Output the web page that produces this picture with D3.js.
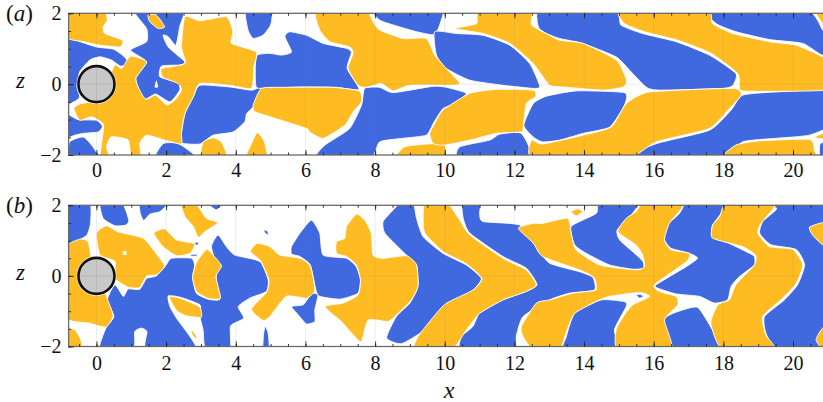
<!DOCTYPE html>
<html><head><meta charset="utf-8">
<script src="https://cdn.jsdelivr.net/npm/d3@7"></script>
<style>html,body{margin:0;padding:0;background:#fff}svg{display:block}</style>
</head><body><svg id="c" width="823" height="402"></svg>
<script>
const majorX=[0,2,4,6,8,10,12,14,16,18,20];
const minorX=d3.range(-0.5,21,0.5);
const majorZ=[-2,0,2];
const minorZ=d3.range(-2,2.01,0.5);
const bodyCentre=[0,0], bodyRadius=0.5;
const panelNames=["(a)","(b)"];

const blueA=[
[[-.86,1.26],[-.48,1.20],[0,1.05],[.48,.99],[.78,.79],[.94,.58],[.69,.51],[.43,.68],[.10,.77],[-.19,.68],[-.48,.35],[-.56,-.08],[-.48,-.36],[-.65,-.50],[-.91,-.50]],
[[-.91,-.83],[-.53,-1.0],[0,-1.02],[.17,-1.19],[.05,-1.35],[-.38,-1.39],[-.62,-1.44],[-.91,-1.51]],
[[-.77,-1.63],[-.38,-1.49],[-.10,-1.77],[.05,-2.10],[-.77,-2.10]],
[[1.10,2.09],[2.47,2.09],[2.39,1.62],[2.28,1.10],[2.06,1.34],[1.91,1.38],[2.06,1.05],[2.54,.63],[2.39,.54],[1.87,.51],[1.82,.21],[2.34,.04],[2.39,-.17],[2.11,-.50],[1.70,-.28],[1.39,-.43],[1.22,-.15],[1.13,.19],[1.44,.63],[.98,.96],[1.44,1.20],[1.44,1.57]],
[[1.70,-2.10],[1.91,-1.68],[2.30,-1.66],[2.58,-1.82],[2.87,-2.10]],
[[4.29,2.09],[5.02,2.09],[5.0,1.67],[4.78,1.38],[4.50,1.29],[4.35,1.53]],
[[2.97,-.03],[3.83,-.08],[4.45,-.17],[4.74,-.09],[4.50,-.64],[4.31,-.83],[4.26,-1.06],[3.92,-1.35],[3.35,-1.44],[2.97,-1.69],[2.44,-1.66],[2.44,-1.35],[2.54,-.83],[2.78,-.36]],
[[4.56,.44],[4.61,.82],[4.98,.87],[5.31,.82],[5.60,.91],[5.41,1.34],[5.55,1.48],[6.03,1.38],[6.51,1.15],[7.18,1.01],[7.32,.89],[7.20,.44],[7.54,-.15],[6.89,-.09],[5.93,-.08],[4.98,-.11],[4.59,-.09]],
[[7.99,2.09],[9.86,2.09],[9.90,1.81],[9.71,1.40],[9.19,1.48],[8.52,1.67],[8.13,1.81]],
[[7.70,-.12],[8.13,-.09],[8.52,-.24],[9.67,-.06],[10.05,-.09],[10.62,-.26],[10.29,-.55],[9.95,-.69],[9.67,-1.11],[9.47,-1.44],[8.80,-1.53],[8.13,-1.63],[7.85,-2.10],[6.32,-2.10],[6.56,-1.72],[7.27,-1.25],[7.61,-.59]],
[[10.43,-2.10],[10.43,-1.77],[11.29,-1.58],[11.58,-1.41],[12.20,-1.39],[12.44,-2.10]],
[[9.71,1.48],[10.33,1.43],[11.10,1.38],[11.87,1.10],[12.44,.58],[12.73,-.06],[12.54,-.12],[11.67,-.03],[10.72,.11],[10.05,.44],[9.76,.82]],
[[12.54,-.55],[12.92,-.34],[13.78,-.19],[15.16,-.24],[15.16,-.59],[14.74,-1.21],[13.97,-1.39],[13.30,-1.58],[12.81,-1.63],[12.54,-1.49],[12.27,-1.16]],
[[12.78,2.09],[14.87,2.09],[15.06,1.67],[15.68,1.43],[16.64,1.20],[17.60,.82],[18.36,.30],[18.27,-.03],[17.98,-.12],[16.16,-.17],[15.78,-.08],[15.30,.40],[14.92,.77],[13.96,1.15],[13.29,1.29],[12.92,1.43],[12.71,1.57],[12.65,1.81]],
[[17.60,2.09],[20.37,2.09],[20.85,1.53],[21.15,1.15],[20.85,.82],[20.28,1.15],[19.32,1.26],[18.36,1.48],[17.79,1.71]],
[[18.55,-.31],[19.51,-.22],[21.15,-.19],[21.15,-1.11],[20.47,-1.44],[19.51,-1.53],[18.55,-1.63],[17.98,-2.10],[15.25,-2.10],[16.07,-1.68],[17.60,-1.30],[18.22,-.73]],
[[20.78,-2.10],[20.78,-1.68],[21.15,-1.63],[21.15,-2.10]]
];
const orangeA=[
[[-.86,2.09],[.19,2.09],[.31,1.81],[.19,1.62],[.24,1.43],[.75,1.24],[.67,1.05],[.10,1.10],[-.38,1.20],[-.86,1.32]],
[[.53,.54],[.72,.44],[.98,.79],[1.44,.63],[1.13,.16],[1.24,-.17],[1.42,-.43],[1.70,-.31],[2.01,-.59],[2.25,-.45],[2.44,-.17],[2.34,.02],[1.91,.19],[1.87,.44],[2.54,.58],[2.44,1.05],[2.54,1.90],[2.97,1.79],[3.73,1.90],[3.92,1.48],[3.88,1.15],[4.59,.91],[4.52,.49],[4.45,-.12],[3.83,-.03],[2.97,.02],[2.78,-.36],[2.54,-.83],[2.44,-1.39],[2.44,-1.69],[1.96,-1.58],[1.44,-1.44],[1.24,-1.68],[1.29,-2.10],[1.00,-2.10],[.91,-1.58],[.43,-1.49],[.29,-1.77],[.38,-2.10],[.10,-2.10],[.19,-1.35],[.19,-1.11],[-.14,-.92],[-.48,-1.02],[-.65,-.69],[-.48,-.56],[0,-.45],[.29,.02]],
[[1.48,1.95],[1.72,1.95],[1.96,1.62],[1.77,1.57],[1.53,1.76]],
[[3.01,-2.10],[3.06,-1.64],[3.35,-1.51],[3.59,-1.64],[3.75,-2.10]],
[[4.29,-2.10],[4.45,-1.68],[4.61,-1.37],[4.80,-1.58],[4.90,-2.10]],
[[4.74,-.12],[5.45,-.09],[6.75,-.09],[7.54,-.19],[7.61,-.50],[7.37,-.78],[7.13,-1.16],[6.51,-1.53],[6.12,-1.35],[6.03,-1.25],[4.98,-.92],[4.55,-.78],[4.50,-.59]],
[[6.32,2.09],[7.70,2.09],[7.94,1.76],[8.13,1.53],[8.80,1.29],[9.47,1.29],[9.71,.82],[10.05,.44],[10.43,.02],[10.14,-.03],[9.00,-.03],[8.52,-.19],[8.18,.02],[7.75,-.09],[7.51,-.03],[7.22,.44],[7.37,.87],[7.27,1.05],[6.70,1.20],[6.41,1.53]],
[[8.61,-2.10],[8.85,-1.77],[9.47,-1.69],[9.98,-1.69],[9.98,-2.10]],
[[9.57,-1.39],[9.76,-1.02],[9.95,-.73],[10.72,-.26],[11.48,-.15],[12.54,-.17],[12.60,-.36],[12.34,-.55],[12.25,-1.25],[12.20,-1.35],[11.48,-1.39],[10.72,-1.58],[10.0,-1.72],[9.67,-1.68]],
[[10.29,1.57],[10.91,1.71],[11.0,2.09],[12.44,2.09],[12.49,1.67],[13.01,1.38],[13.30,1.24],[13.97,1.15],[14.93,.68],[15.22,.11],[15.12,-.08],[14.55,-.17],[13.40,-.08],[13.01,-.03],[12.54,.58],[11.87,1.15],[11.10,1.43]],
[[12.49,-1.58],[12.81,-1.69],[13.97,-1.44],[14.78,-1.21],[15.21,-.55],[15.88,-.22],[18.27,-.12],[18.51,-.31],[18.17,-.69],[17.60,-1.25],[16.07,-1.63],[15.21,-2.10],[12.54,-2.10]],
[[15.06,2.09],[17.50,2.09],[17.69,1.71],[18.27,1.43],[19.32,1.20],[20.09,1.10],[20.85,.77],[21.15,.49],[21.15,-.15],[18.65,-.20],[18.46,-.09],[18.41,.30],[17.65,.87],[16.69,1.24],[15.73,1.48],[15.16,1.71]],
[[20.61,2.09],[21.15,2.09],[21.15,1.34]],
[[18.03,-2.10],[18.36,-1.72],[19.03,-1.60],[20.47,-1.56],[20.61,-1.86],[20.55,-2.10]],
[[20.62,-1.51],[20.85,-1.39],[21.15,-1.35],[21.15,-1.56]]
];
const holesA=[[[1.72,.11],[1.77,-.08],[1.67,-.09]]];

const blueB=[
[[-.86,2.09],[-.19,2.09],[-.17,1.49],[-.27,1.16],[-.48,1.02],[-.65,.81],[-.91,.78]],
[[.11,2.09],[.72,2.09],[.93,1.58],[.84,1.44],[.53,1.42],[.19,1.63]],
[[1.26,2.09],[2.06,2.09],[1.82,1.82],[1.53,1.75],[1.36,1.57],[1.26,1.77]],
[[3.16,2.09],[3.66,2.09],[3.44,1.87]],
[[2.83,.95],[2.92,.95],[2.92,.88],[2.83,.88]],
[[2.72,.61],[2.88,.61],[2.88,.56],[2.72,.56]],
[[.10,-2.09],[.27,-1.48],[.50,-1.15],[.31,-.68],[.53,-.25],[.77,-.58],[.91,-.37],[1.24,-.38],[1.44,-.07],[1.72,0],[1.98,.28],[2.15,.50],[2.73,.50],[2.82,.28],[2.76,-.04],[2.87,-.49],[3.21,-.66],[3.54,-.66],[3.44,-.11],[3.44,.31],[3.30,.83],[3.49,1.16],[3.73,.83],[3.97,.59],[4.69,.41],[4.93,-.11],[4.88,-.44],[4.40,-.63],[4.07,-.87],[4.23,-1.20],[3.85,-1.42],[3.83,-2.09],[3.14,-2.09],[3.06,-1.53],[2.97,-1.15],[2.97,-.82],[2.39,-.60],[2.06,-.57],[2.11,-.87],[2.30,-1.20],[2.87,-2.09],[1.44,-2.09],[1.45,-1.58],[1.29,-1.48],[1.10,-1.58],[1.05,-2.09]],
[[4.78,-2.09],[4.80,-1.62],[4.85,-1.43],[4.93,-1.62],[4.96,-2.09]],
[[4.80,1.30],[4.90,1.28],[4.95,1.17],[4.85,1.20]],
[[5.60,.83],[5.84,1.21],[6.17,1.58],[6.41,1.21],[6.51,.59],[7.18,.50],[7.46,.26],[7.58,-.11],[7.51,-.49],[6.99,-.66],[6.41,-.58],[6.30,-.40],[6.14,.31],[5.84,.55],[5.60,.62]],
[[6.08,-.63],[6.17,-.49],[6.36,-.54],[6.27,-.96],[6.27,-1.29],[6.03,-1.36],[5.79,-1.10],[5.60,-.87],[5.93,-.82]],
[[8.76,2.09],[9.09,2.09],[9.19,1.63],[9.38,1.11],[9.95,.64],[10.62,.31],[11.05,-.07],[10.81,-.40],[9.95,-1.01],[9.43,-1.53],[8.76,-1.92],[8.33,-1.76],[8.61,-1.15],[9.0,-.77],[9.23,-.30],[9.19,.31],[8.90,.59],[8.28,1.21],[8.23,1.54],[8.52,1.87]],
[[10.51,2.09],[11.02,2.09],[11.0,1.77],[11.10,1.54],[12.15,1.44],[12.63,.83],[13.01,.36],[13.87,.12],[14.25,-.04],[14.30,-.40],[13.58,-.49],[13.01,-.68],[12.25,-1.15],[12.06,-1.67],[11.96,-2.09],[10.48,-2.09],[10.48,-1.72],[10.81,-1.43],[11.0,-1.06],[11.67,-.68],[12.34,-.44],[12.65,-.25],[12.34,.22],[11.67,.55],[10.72,1.21],[10.53,1.63]],
[[13.63,1.40],[14.35,1.77],[14.44,2.09],[15.55,2.09],[15.36,1.73],[14.95,1.30],[15.02,1.02],[15.45,.64],[15.69,.41],[15.71,.22],[15.40,.19],[14.73,.31],[14.06,.64],[13.73,.88]],
[[13.44,-2.09],[13.49,-1.72],[13.73,-1.06],[14.49,-.68],[15.16,-.73],[15.21,-.87],[14.87,-1.53],[14.97,-2.09]],
[[15.50,-.55],[15.60,-.52],[15.70,-.58],[15.60,-.63]],
[[16.98,2.09],[18.12,2.09],[17.69,1.44],[17.69,1.11],[18.17,.92],[18.75,.64],[18.89,.55],[18.89,.31],[18.46,-.02],[18.22,-.30],[18.12,-.68],[17.74,-.77],[17.31,-.58],[16.64,-.51],[16.12,-.35],[16.07,-.25],[16.93,.26],[17.26,.50],[17.02,.64],[16.50,.78],[16.31,1.02],[16.35,1.40],[16.74,1.77]],
[[16.31,-1.20],[16.69,-1.01],[17.26,-.89],[17.69,-1.53],[18.08,-2.09],[16.50,-2.09],[16.31,-1.62]],
[[19.62,2.09],[21.15,2.09],[21.15,-2.09],[19.57,-2.09],[19.22,-1.62],[19.18,-1.15],[19.75,-.68],[20.13,-.25],[20.33,.31],[20.09,.75],[19.37,.88],[19.04,1.21],[19.13,1.54],[19.51,1.87]]
];
const orangeB=[
[[-.91,.74],[-.48,1.04],[-.24,.97],[-.14,.50],[.10,.08],[.29,-.58],[.48,-1.13],[.27,-1.45],[-.19,-1.34],[-.91,-1.15]],
[[-.91,-1.48],[-.62,-1.53],[-.45,-1.81],[-.43,-2.09],[-.91,-2.09]],
[[2.42,2.09],[2.82,2.09],[3.16,1.63],[3.49,1.51],[3.11,1.25],[2.92,1.09],[2.78,1.40],[2.54,1.68]],
[[0,1.21],[.29,1.42],[.62,1.25],[1.34,1.07],[1.67,.69],[1.96,.28],[1.72,.03],[1.44,0],[1.24,-.33],[.91,-.32],[.53,-.07],[.53,.41],[.10,.59]],
[[1.65,1.21],[1.96,1.33],[2.30,1.02],[2.82,.91],[2.68,.64],[2.30,.57],[1.91,.83]],
[[2.09,-.60],[2.39,-.63],[2.95,-.87],[3.01,-1.17],[2.58,-1.13],[2.30,-.98]],
[[2.76,-1.55],[2.89,-1.74],[2.82,-1.76],[2.73,-1.62]],
[[2.87,.38],[3.16,.75],[3.35,.59],[3.59,.28],[3.43,-.02],[3.56,-.63],[3.21,-.64],[2.87,-.44],[2.76,-.04]],
[[4.42,.69],[4.61,.92],[4.98,.83],[5.26,.59],[5.84,.50],[6.14,.28],[6.27,-.40],[6.03,-.63],[5.45,-.58],[4.98,-1.15],[4.78,-1.26],[4.45,-.94],[4.88,-.47],[4.95,-.11],[4.71,.43]],
[[7.18,1.40],[7.46,1.75],[7.70,1.58],[7.89,1.21],[7.94,.59],[8.23,.50],[8.90,.57],[9.19,.31],[9.23,-.30],[9.04,-.68],[8.66,-1.06],[8.37,-1.29],[7.80,-1.25],[7.61,-1.86],[7.42,-1.72],[7.03,-1.29],[6.56,-.87],[7.08,-.77],[7.51,-.54],[7.58,-.11],[7.46,.31],[7.18,.55],[6.89,.64],[6.89,.97],[7.13,1.07]],
[[9.43,2.09],[10.05,2.09],[10.43,1.58],[10.72,1.16],[11.67,.50],[12.34,.17],[12.63,-.25],[12.34,-.44],[11.67,-.68],[11.0,-1.06],[10.62,-1.53],[10.19,-2.09],[9.14,-2.09],[9.23,-1.72],[9.76,-1.06],[10.05,-.77],[10.81,-.40],[11.07,-.07],[10.62,.34],[9.95,.69],[9.43,1.21],[9.38,1.58]],
[[12.11,1.35],[12.54,1.49],[12.81,1.49],[13.53,1.63],[13.63,1.21],[13.77,.74],[14.44,.31],[15.49,.17],[15.73,.26],[15.68,.59],[15.49,.88],[14.97,1.25],[15.21,1.63],[15.49,1.82],[15.74,2.09],[16.89,2.09],[16.45,1.49],[16.31,1.02],[16.50,.74],[17.02,.64],[16.94,.41],[16.02,-.25],[16.16,-.44],[16.64,-.58],[16.69,-.82],[16.31,-1.25],[16.50,-2.09],[14.98,-2.09],[14.92,-1.53],[15.16,-1.10],[15.40,-.82],[15.89,-.58],[15.59,-.47],[14.73,-.58],[14.44,-.68],[13.73,-1.06],[13.48,-1.62],[13.29,-2.09],[12.54,-2.09],[12.25,-1.72],[12.20,-1.43],[12.63,-.77],[13.01,-.68],[13.67,-.49],[14.33,-.40],[14.28,-.04],[13.87,.17],[12.81,.55],[12.54,.93]],
[[13.63,1.82],[13.82,1.90],[13.96,1.82],[13.77,1.70]],
[[18.12,2.09],[19.51,2.09],[19.08,1.49],[18.99,1.21],[19.32,.83],[19.99,.75],[20.28,.31],[20.09,-.21],[19.70,-.63],[19.13,-1.15],[19.22,-1.67],[19.46,-2.09],[17.98,-2.09],[17.64,-1.34],[17.84,-.82],[18.17,-.68],[18.36,-.25],[18.89,.31],[18.92,.59],[18.55,.83],[17.69,1.07],[17.69,1.44],[17.89,1.68]],
[[20.47,1.38],[20.85,1.51],[21.15,1.49],[21.15,.83],[20.85,.88],[20.56,1.16]],
[[20.66,-1.81],[20.85,-1.48],[21.15,-1.48],[21.15,-2.09],[20.86,-2.09]]
];
const holesB=[[[.76,.70],[.86,.70],[.86,.60],[.76,.60]]];

const BLUE="#4069E0", ORANGE="#FFBC20", SERIF="'Liberation Serif',serif";
const svg=d3.select("#c");
const defs=svg.append("defs");
defs.append("filter").attr("id","soft").attr("x","-2%").attr("y","-5%").attr("width","104%").attr("height","110%")
  .append("feGaussianBlur").attr("stdDeviation",0.45);
const x=d3.scaleLinear().domain([-0.8,20.86]).range([68.6,823]);

function panel(i,blue,orange,holes,top,bottom,pad){
  const z=d3.scaleLinear().domain([-2,2]).range([bottom,top]);
  const id="clip"+i;
  defs.append("clipPath").attr("id",id).append("rect")
    .attr("x",x(-0.8)).attr("y",top).attr("width",823-x(-0.8)).attr("height",bottom-top);
  const g=svg.append("g");
  const clipG=g.append("g").attr("clip-path",`url(#${id})`);
  const body=clipG.append("g").attr("filter","url(#soft)");
  const line=d3.line().x(d=>x(d[0])).y(d=>z(d[1])).curve(d3.curveCardinalClosed.tension(0.45));
  const draw=(data,fill,sw)=>body.append("g").selectAll("path").data(data).join("path")
    .attr("d",line).attr("fill",fill).attr("stroke","#fff").attr("stroke-width",sw).attr("stroke-linejoin","round");
  draw(blue,BLUE,0.9);
  draw(orange,ORANGE,0.9);
  draw(holes,"#fff",0);
  clipG.append("g").selectAll("line").data(majorX).join("line")
    .attr("x1",d=>x(d)).attr("x2",d=>x(d)).attr("y1",top).attr("y2",bottom)
    .attr("stroke","#777").attr("stroke-opacity",.14).attr("stroke-width",1);
  clipG.append("line").attr("x1",x(-0.8)).attr("x2",823).attr("y1",z(0)).attr("y2",z(0))
    .attr("stroke","#777").attr("stroke-opacity",.14).attr("stroke-width",1);
  const rx=x(bodyCentre[0]), rz=z(bodyCentre[1]), r=x(bodyRadius)-x(0);
  g.append("circle").attr("cx",rx).attr("cy",rz).attr("r",r+2.4).attr("fill","#fff");
  g.append("circle").attr("cx",rx).attr("cy",rz).attr("r",r+0.6).attr("fill","#c8c8c8").attr("stroke","#111").attr("stroke-width",2.6);
  g.append("line").attr("x1",rx-r).attr("x2",rx+r).attr("y1",rz).attr("y2",rz).attr("stroke","#777").attr("stroke-opacity",.2);
  g.append("line").attr("x1",rx).attr("x2",rx).attr("y1",rz-r).attr("y2",rz+r).attr("stroke","#777").attr("stroke-opacity",.2);
  g.append("rect").attr("x",x(-0.8)).attr("y",top).attr("width",823-x(-0.8)+3).attr("height",bottom-top)
    .attr("fill","none").attr("stroke","#6a6a6a").attr("stroke-width",1.3);
  const styleAxis=a=>{a.select(".domain").remove();a.selectAll("line").attr("stroke","#222").attr("stroke-width",.9);
    a.selectAll("text").attr("font-family",SERIF).attr("font-size",20).attr("fill","#111");};
  const inRange=minorX.filter(v=>x(v)<=823);
  svg.append("g").attr("transform",`translate(0,${bottom})`).call(d3.axisBottom(x).tickValues(inRange).tickSize(-2.5).tickFormat("")).call(styleAxis);
  svg.append("g").attr("transform",`translate(0,${top})`).call(d3.axisTop(x).tickValues(inRange).tickSize(-2.5).tickFormat("")).call(styleAxis);
  svg.append("g").attr("transform",`translate(0,${top})`).call(d3.axisTop(x).tickValues(majorX).tickSize(-5).tickFormat("")).call(styleAxis);
  svg.append("g").attr("transform",`translate(0,${bottom})`).call(d3.axisBottom(x).tickValues(majorX).tickSize(-5).tickPadding(pad).tickFormat(d3.format("d"))).call(styleAxis);
  svg.append("g").attr("transform",`translate(${x(-0.8)},0)`).call(d3.axisLeft(z).tickValues(minorZ).tickSize(-2.5).tickFormat("")).call(styleAxis);
  svg.append("g").attr("transform",`translate(${x(-0.8)},0)`).call(d3.axisLeft(z).tickValues(majorZ).tickSize(-5).tickPadding(7).tickFormat(d3.format("d"))).call(styleAxis);
  const t=svg.append("text").attr("x",6).attr("y",top+7.5).attr("font-family",SERIF).attr("font-size",23).attr("fill","#111");
  const nm=panelNames[i];
  t.append("tspan").text("(");
  t.append("tspan").attr("font-style","italic").text(nm[1]);
  t.append("tspan").text(")");
  svg.append("text").attr("x",16).attr("y",z(0)+4).attr("font-family",SERIF).attr("font-style","italic").attr("font-size",23).attr("fill","#111").text("z");
}
panel(0,blueA,orangeA,holesA,13.3,155,8);
panel(1,blueB,orangeB,holesB,205.3,346.5,9);
svg.append("text").attr("x",449).attr("y",398).attr("text-anchor","middle").attr("font-family",SERIF).attr("font-style","italic").attr("font-size",24).attr("fill","#111").text("x");
</script></body></html>
